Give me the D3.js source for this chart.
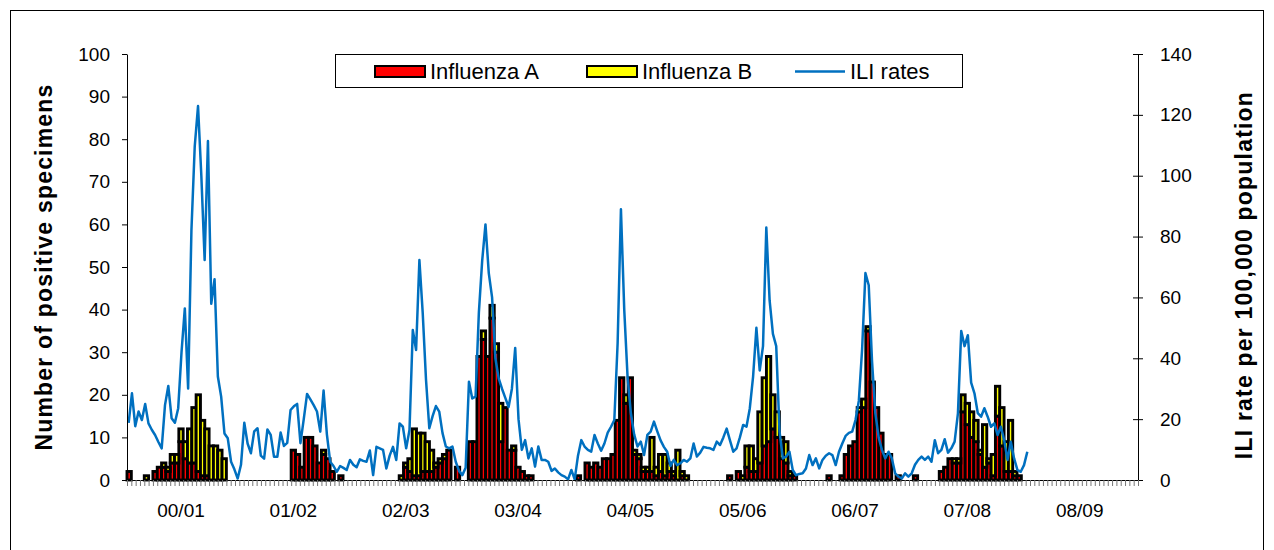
<!DOCTYPE html>
<html><head><meta charset="utf-8">
<script src="https://cdn.jsdelivr.net/npm/d3@7"></script>
<style>body{margin:0;background:#fff;} svg{display:block;font-family:Arial,"Liberation Sans",sans-serif;}</style>
</head><body><svg id="chart" width="1274" height="550"></svg>
<script>
// ---- data ----
const seasons = ["00/01","01/02","02/03","03/04","04/05","05/06","06/07","07/08","08/09"];
const periodsPerSeason = 26;   // bar categories per season
const iliPointsPerSeason = 34; // ILI points per season
const leftTicks = [0,10,20,30,40,50,60,70,80,90,100];
const rightTicks = [0,20,40,60,80,100,120,140];
const seriesNames = ["Influenza A","Influenza B","ILI rates"];

const fluA = [
  2,0,0,0,0,0,2,3,3,2,4,4,9,5,4,4,2,1,1,0,0,0,0,0,0,0,
  0,0,0,0,0,0,0,0,0,0,0,0,7,6,3,10,10,8,4,6,5,2,0,1,0,0,
  0,0,0,0,0,0,0,0,0,0,0,0,3,2,1,1,2,2,2,3,4,5,7,0,3,0,
  0,9,9,29,33,29,38,30,9,17,7,7,3,2,1,1,0,0,0,0,0,0,0,0,0,0,
  1,0,4,3,4,3,5,5,6,14,24,18,24,6,5,2,2,2,1,2,1,2,1,0,1,0,
  0,0,0,0,0,0,0,0,0,1,0,2,0,3,2,2,4,8,9,12,10,5,4,1,1,0,
  0,0,0,0,0,0,1,0,0,1,6,8,9,16,17,35,23,17,11,6,6,0,1,0,0,0,
  1,0,0,0,0,0,2,3,5,4,4,16,13,10,9,6,3,4,1,15,8,2,2,1,1,0,
  0,0,0,0,0,0,0,0,0,0,0,0,0,0,0,0,0,0,0,0,0,0,0,0,0,0
];
const fluB = [
  0,0,0,0,1,0,0,0,1,1,2,2,3,4,8,13,18,13,11,8,8,7,5,0,0,0,
  0,0,0,0,0,0,0,0,0,0,0,0,0,0,0,0,0,0,0,1,0,0,0,0,0,0,
  0,0,0,0,0,0,0,0,0,0,0,1,1,3,11,10,9,7,5,1,1,1,0,0,0,0,
  0,0,0,0,2,0,3,2,9,0,0,1,0,0,0,0,0,0,0,0,0,0,0,0,0,0,
  0,0,0,0,0,0,0,0,0,0,0,2,0,1,1,1,1,8,2,4,5,2,1,7,1,1,
  0,0,0,0,0,0,0,0,0,0,0,0,1,5,6,3,12,16,20,8,6,5,5,1,0,0,
  0,0,0,0,0,0,0,0,0,0,0,0,0,1,2,1,0,0,0,0,0,0,0,0,0,0,
  0,0,0,0,0,0,0,0,0,1,1,4,5,6,5,1,10,1,5,7,9,7,12,1,0,0,
  0,0,0,0,0,0,0,0,0,0,0,0,0,0,0,0,0,0,0,0,0,0,0,0,0,0
];
const iliRates = [
  18.8,28.5,17.7,22.5,19.7,25,18.6,16.5,14.8,12.5,10.4,24.6,30.9,20.3,18.8,23.6,42,56.4,30.1,82,109.6,122.9,100,72.3,111.4,57.9,66,34,27.4,15.3,13.7,6,3.5,0.5,
  5,18.8,12,8.8,16,17,8,7,16.6,14.8,7.6,7.6,15.6,11.2,12.2,23,24.2,25,12.1,20,28.3,26.5,24.6,22.5,15.9,29.4,15,6,4.6,2.7,4.6,4,3.3,6.6,
  5,4.2,6.8,6.3,6,9.7,1.6,10.9,10.4,9.9,3.8,8,10.9,6.6,18.6,17.5,10.4,16.4,49.3,42.7,72.3,55,33,17,21,24.3,22.5,15.4,11,10.4,11,6,3,1.6,
  4,32.3,26.8,27.4,55,72,84,68,60,40,33.4,30,27,24,30,43.4,20,9.9,13.1,7.1,10.4,4.4,11,6.6,6.6,6,3,3.8,2.5,1.6,1.1,0.2,3.3,0.2,
  8,13.1,11,9.9,9.3,14.8,12,9.6,12,15.6,17.5,19.7,45,89,56,34,22,15,11,12.6,8.2,14.8,15.9,19.2,16,13,10.9,9.3,4.6,6.6,4.9,5.5,6.6,6,
  7.1,12,7.7,9,10.9,10.6,10.4,9.9,12.6,11.5,14,16.9,13,9.3,10.4,14,18.1,17.5,23.5,34,50,36,44,83,59,48,44,16,7.1,7.7,9.3,3.3,1.6,2,
  2.2,3.8,8.2,4.9,7.1,3.8,6.6,8,8.8,8.2,4.9,9.3,12,14.5,15.5,15.9,19.7,26,43,68,64,39,22,14,9.9,7.1,9.3,7.1,2.2,1.1,0.5,2.2,1.1,2.2,
  5,6.6,7.7,6.6,7.7,6,13.1,8.8,9.9,13.4,9,10.4,12.6,21.9,49,44,47.6,32,28.5,22,20.8,23.6,20.8,17.5,18.6,14.8,17.5,13.1,6.6,12.6,7.1,3.3,2.7,4.9,
  9.3
];

// ---- layout ----
const plot = {left:127, right:1138, top:54, bottom:480};
const svg = d3.select('#chart');
svg.append('rect').attr('x',10.5).attr('y',10.5).attr('width',1253).attr('height',560)
  .attr('fill','none').attr('stroke','#000').attr('stroke-width',1);

const nCat = seasons.length * periodsPerSeason;
const x = d3.scaleBand().domain(d3.range(nCat)).range([plot.left, plot.right]).padding(0);
const xEdge = d3.scaleLinear().domain([0, nCat]).range([plot.left, plot.right]);
const xLine = d3.scaleLinear().domain([0, seasons.length * iliPointsPerSeason]).range([plot.left, plot.right]);
const yL = d3.scaleLinear().domain([0,100]).range([plot.bottom, plot.top]);
const yR = d3.scaleLinear().domain([0,140]).range([plot.bottom, plot.top]);

// bars (stacked A bottom, B top)
const barStroke = 2.9;
const barData = d3.range(nCat).map(i => ({i, a: fluA[i], b: fluB[i]}));
const gBars = svg.append('g');
gBars.selectAll('rect.a').data(barData.filter(d => d.a > 0)).join('rect')
  .attr('x', d => x(d.i)).attr('width', x.bandwidth())
  .attr('y', d => yL(d.a)).attr('height', d => yL(0) - yL(d.a))
  .attr('fill', '#ff0000').attr('stroke', '#000').attr('stroke-width', barStroke);
gBars.selectAll('rect.b').data(barData.filter(d => d.b > 0)).join('rect')
  .attr('x', d => x(d.i)).attr('width', x.bandwidth())
  .attr('y', d => yL(d.a + d.b)).attr('height', d => yL(d.a) - yL(d.a + d.b))
  .attr('fill', '#ffff00').attr('stroke', '#000').attr('stroke-width', barStroke);

// ILI line
const line = d3.line().x((d,j) => xLine(j + 0.5)).y(d => yR(d));
svg.append('path').datum(iliRates).attr('d', line)
  .attr('fill','none').attr('stroke','#0070c0').attr('stroke-width',2.5).attr('stroke-linejoin','round');

// axes
const tickFont = 19;
const axL = svg.append('g').attr('transform', `translate(${plot.left},0)`)
  .call(d3.axisLeft(yL).tickValues(leftTicks).tickSize(5).tickPadding(12).tickSizeOuter(0));
const axR = svg.append('g').attr('transform', `translate(${plot.right},0)`)
  .call(d3.axisRight(yR).tickValues(rightTicks).tickSize(5).tickPadding(17).tickSizeOuter(0));
axR.selectAll('.tick line').attr('x1', -5).attr('x2', 5);
const axB = svg.append('g').attr('transform', `translate(0,${plot.bottom})`)
  .call(d3.axisBottom(xEdge).tickValues(d3.range(nCat + 1)).tickFormat('').tickSize(6).tickSizeOuter(0));
axB.selectAll('.tick line').attr('stroke', '#777');
const labelCats = seasons.map((s, k) => k * periodsPerSeason + 12);
const axLab = svg.append('g').attr('transform', `translate(0,${plot.bottom})`)
  .call(d3.axisBottom(x).tickValues(labelCats).tickFormat((d, k) => seasons[k]).tickSize(0).tickPadding(24));
axLab.select('.domain').remove();
[axL, axR, axB, axLab].forEach(g => {
  g.selectAll('text').attr('font-size', tickFont).attr('font-family', 'Arial, "Liberation Sans", sans-serif').attr('fill','#000');
  g.selectAll('.domain').attr('stroke', '#000');
});
axL.selectAll('.tick line').attr('stroke','#000');
axR.selectAll('.tick line').attr('stroke','#000');

// axis titles
svg.append('text').attr('transform', `translate(52,${(plot.top+plot.bottom)/2}) rotate(-90)`)
  .attr('text-anchor','middle').attr('font-weight','bold').attr('font-size',23).attr('letter-spacing',1.2)
  .text('Number of positive specimens');
svg.append('text').attr('transform', `translate(1252,${(plot.top+plot.bottom)/2 + 8}) rotate(-90)`)
  .attr('text-anchor','middle').attr('font-weight','bold').attr('font-size',23).attr('letter-spacing',1.2)
  .text('ILI rate per 100,000 population');

// legend
const lg = svg.append('g');
lg.append('rect').attr('x',335.5).attr('y',54.5).attr('width',627).attr('height',33)
  .attr('fill','#fff').attr('stroke','#000');
const items = [
  {name: seriesNames[0], type:'bar', color:'#ff0000', x:375},
  {name: seriesNames[1], type:'bar', color:'#ffff00', x:587},
  {name: seriesNames[2], type:'line', color:'#0070c0', x:795}
];
items.forEach(it => {
  if (it.type === 'bar') {
    lg.append('rect').attr('x', it.x).attr('y', 66).attr('width', 50).attr('height', 11)
      .attr('fill', it.color).attr('stroke','#000').attr('stroke-width',2);
  } else {
    lg.append('line').attr('x1', it.x).attr('x2', it.x + 50).attr('y1', 71.5).attr('y2', 71.5)
      .attr('stroke', it.color).attr('stroke-width', 2.4);
  }
  lg.append('text').attr('x', it.x + 55).attr('y', 79).attr('font-size', 22).text(it.name);
});
</script></body></html>
